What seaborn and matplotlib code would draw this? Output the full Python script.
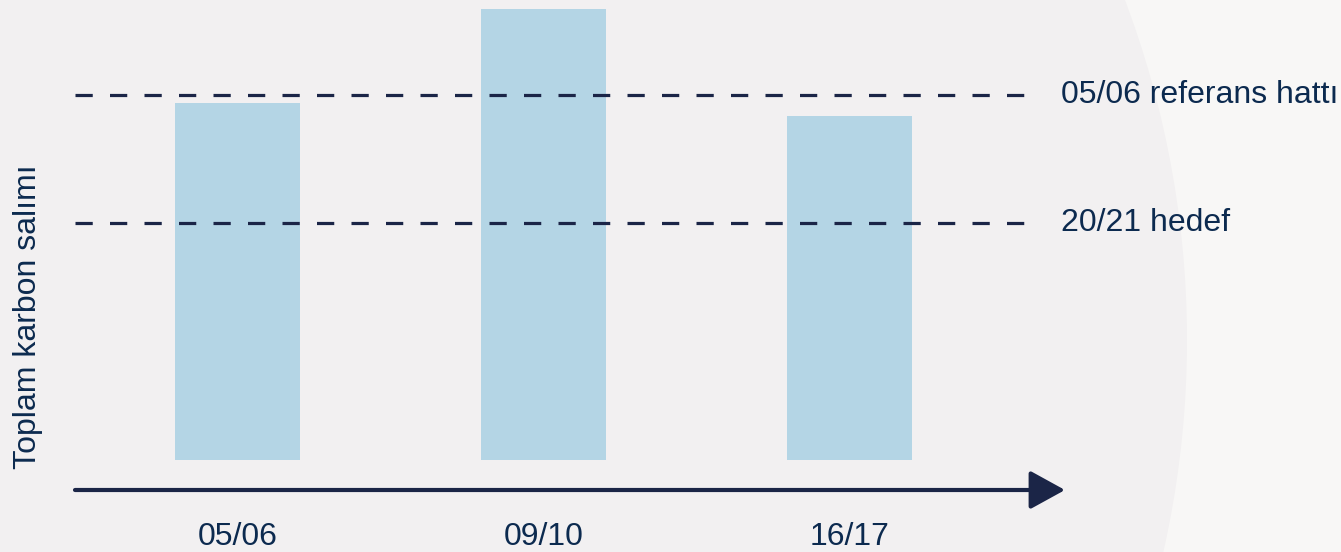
import matplotlib
matplotlib.use("Agg")
import matplotlib.pyplot as plt
import seaborn as sns
from matplotlib.patches import Circle

# values relative to the 05/06 reference line (= 100)
periods = ["05/06", "09/10", "16/17"]
emissions = [97.8, 123.6, 94.2]
reference_line = 100
target_line = 65
line_labels = ["05/06 referans hattı", "20/21 hedef"]
y_label = "Toplam karbon salımı"

bar_color = "#b4d5e5"
navy = "#1b2547"
text_color = "#0c2a4f"

sns.set_theme(style="white")
plt.rcParams["font.family"] = ["Liberation Sans", "DejaVu Sans"]

fig = plt.figure(figsize=(13.41, 5.52), dpi=100, facecolor="#f8f7f6")
# darker background disc, its right edge is the curve on the right
fig.add_artist(Circle((2.24, 2.12), 9.63, transform=fig.dpi_scale_trans,
                      facecolor="#f2f0f1", edgecolor="none", zorder=0))

ax = fig.add_axes([75 / 1341, 62 / 552, 990 / 1341, 490 / 552])
ax.set_facecolor("none")

sns.barplot(x=periods, y=emissions, color=bar_color, saturation=1,
            width=0.408, linewidth=0, edgecolor="none", ax=ax, zorder=2)

x_left, x_right = -0.531, 2.704
ax.set_xlim(x_left, x_right)
ax.set_ylim(-8.2, 126.0)

for val, lab in zip([reference_line, target_line], line_labels):
    ax.plot([x_left, 2.623], [val, val], color=navy, lw=2.3,
            dashes=(5.4, 5.4), zorder=3, clip_on=False)
    ax.text(2.69, val, lab, color=text_color, fontsize=23,
            ha="left", va="center", clip_on=False)

# x axis drawn as an arrow
ax.annotate("", xy=(x_right, -8.2), xytext=(x_left, -8.2),
            arrowprops=dict(arrowstyle="-|>,head_length=0.4,head_width=0.22",
                            mutation_scale=54, color=navy, lw=3.0,
                            shrinkA=0, shrinkB=0),
            annotation_clip=False)

for s in ax.spines.values():
    s.set_visible(False)
ax.set_yticks([])
ax.set_xlabel("")
ax.set_ylabel("")
ax.tick_params(axis="x", length=0, pad=23, labelsize=23, labelcolor=text_color)

fig.text(28 / 1341, 235 / 552, y_label, rotation=90, ha="center", va="center",
         fontsize=23, color=text_color)

fig.savefig("out.png", dpi=100, facecolor=fig.get_facecolor())
